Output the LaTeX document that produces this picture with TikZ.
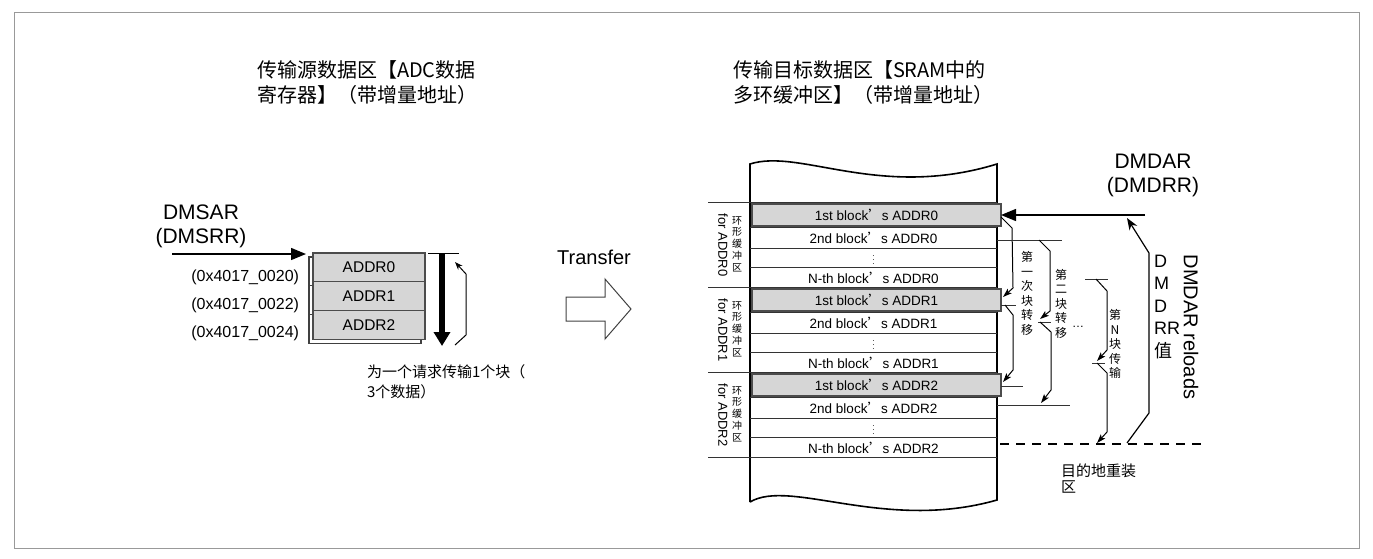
\documentclass[tikz,border=0pt]{standalone}
\usepackage{fontspec}
\setmainfont{Liberation Sans}
\newfontfamily\cjk{Noto Sans CJK SC}
\usetikzlibrary{arrows.meta}
\newcommand{\fsz}[2]{\fontsize{#1}{#2}\selectfont}

\begin{document}
\begin{tikzpicture}[x=1pt,y=-1pt,
  every node/.style={inner sep=0pt,outer sep=0pt},
  greybox/.style={draw=black!70,line width=1.2pt,fill=black!16},
  regbox/.style={greybox,minimum width=112pt,minimum height=28.7pt,font=\fsz{15.5}{16}},
  bigarrow/.style={line width=1.4pt,-{Triangle[length=15pt,width=12pt]}},
  brk/.style={line width=1pt,-{Stealth[length=9pt,width=6pt,inset=2pt]}},
  memline/.style={line width=1pt,black!80},
  rowtext/.style={font=\fsz{13.5}{14}},
  vlabel/.style={align=center,font=\cjk\fsz{12}{14.5}}]
\useasboundingbox (0,0) rectangle (1373,558);
\draw[black!40,line width=1pt] (14,12) rectangle (1359,548);

% titles
\node[anchor=west,align=left,font=\cjk\fsz{20}{25}] (srctitle) at (257,82) {传输源数据区【ADC数据\\寄存器】（带增量地址）};
\node[anchor=west,align=left,font=\cjk\fsz{20}{25}] (dsttitle) at (733,82) {传输目标数据区【SRAM中的\\多环缓冲区】（带增量地址）};

% source registers
\node[align=center,font=\fsz{21}{24}] (dmsar) at (201,226.5) {DMSAR\\(DMSRR)};
\foreach \i in {0,1,2}
  \draw[line width=1.2pt,black!75,fill=white] (309,257+28.7*\i) rectangle ++(112,28.7);
\foreach \i/\a in {0/0020,1/0022,2/0024}{
  \node[regbox,anchor=north west] (reg\i) at (313,253+28.7*\i) {ADDR\i};
  \node[anchor=base east,font=\fsz{16}{16}] (addr\i) at (299,281+28*\i) {(0x4017\_\a)};
}
\coordinate (srcin) at (172,254);
\draw[bigarrow] (srcin) -- ([xshift=-7pt,yshift=-1pt]reg0.north west);
\draw[line width=1pt] (428,253) -- (459,253);
\draw[line width=6pt,-{Triangle[length=14pt,width=16pt]}] (442,254) -- (442,346);
\draw[line width=1pt,-{Stealth[length=8pt,width=6pt]}] (455,345) -- (466,335) -- (466,274) -- (455,262);
\node[anchor=west,align=left,font=\cjk\fsz{15}{20}] (blknote) at (367,382) {为一个请求传输1个块（\\3个数据）};

% transfer
\node[anchor=base,font=\fsz{20}{20}] (xfer) at (594,264) {Transfer};
\draw[line width=1pt,black!75] (566,297) -- (605,297) -- (605,279) -- (631,309) -- (605,339) -- (605,321) -- (566,321) -- cycle;

% destination memory
\draw[line width=1.6pt] (750,502) -- (750,164) .. controls (800,148) and (880,200) .. (997,164)
  -- (997,500) .. controls (885,532) and (790,478) .. (750,502);
\foreach \g in {0,1,2}{
  \pgfmathsetmacro{\T}{202+85*\g}
  \draw[memline] (708,\T) -- (997,\T);
  \foreach \d in {25,46,65}
    \draw[memline] (750,\T+\d) -- (997,\T+\d);
  \node[greybox,minimum width=249pt,minimum height=22pt,anchor=north west,rowtext] (first\g) at (752,\T+2) {1st block{\cjk ’}s ADDR\g};
  \node[rowtext] (second\g) at (873.5,\T+36) {2nd block{\cjk ’}s ADDR\g};
  \node[font=\fsz{8}{8}] (dots\g) at (873.5,\T+55.5) {$\vdots$};
  \node[rowtext] (nth\g) at (873.5,\T+75.5) {N-th block{\cjk ’}s ADDR\g};
  \node[rotate=-90,font=\fsz{13}{13}] (for\g) at (723,\T+43) {for ADDR\g};
  \node[align=center,font=\cjk\fsz{10}{11.75}] (ring\g) at (737,\T+42) {环\\形\\缓\\冲\\区};
}
\draw[memline] (708,457) -- (997,457);

% destination address reload
\node[align=center,font=\fsz{21}{24}] (dmdar) at (1153,175.5) {DMDAR\\(DMDRR)};
\coordinate (dstin) at (1145,215);
\draw[bigarrow] (dstin) -- (first0.east);
\draw[line width=1.2pt,-{Stealth[length=12pt,width=9pt]}] (1127,443) -- (1149,413) -- (1149,253) -- (1127,218);
\node[anchor=west,align=left,font=\fsz{18}{22.5}] (drrval) at (1154,307) {D\\M\\D\\RR\\{\cjk 值}};
\node[rotate=-90,font=\fsz{20}{20}] (reload) at (1191,327) {DMDAR reloads};
\draw[line width=1.2pt,dash pattern=on 9pt off 7pt] (1000,444) -- (1203,444);
\node[anchor=west,align=left,font=\cjk\fsz{15}{16}] (reloadarea) at (1061,479) {目的地重装\\区};

% first block transfer
\draw[brk] ([yshift=-2pt]first0.east) -- ++(11,11) -- (1013,288) -- ([xshift=2pt,yshift=3pt]first1.east);
\draw[memline] ([yshift=-5pt]first1.east) -- ++(15,0);
\draw[brk] ([xshift=4pt,yshift=-5pt]first1.east) -- (1013,315) -- (1013,370) -- ([xshift=2pt,yshift=3pt]first2.east);
\draw[memline] ([yshift=-1pt]first2.east) -- ++(22,0);
\node[vlabel] (lbl1) at (1027,293.5) {第\\一\\次\\块\\转\\移};

% second block transfer
\draw[memline] (997,240) -- (1062,240);
\draw[brk] (1039,240) -- (1050,251) -- (1050,311) -- (1040,319);
\draw[memline] (1038,322) -- (1051,322);
\draw[brk] (1040,322) -- (1051,332) -- (1051,390) -- (1041,403);
\draw[memline] (997,405) -- (1070,405);
\node[vlabel] (lbl2) at (1061,303.5) {第\\二\\块\\转\\移};
\node[font=\fsz{12}{12}] (more) at (1078,327) {…};

% N-th block transfer
\draw[memline] (1085,279) -- (1108,279);
\draw[brk] (1096,279) -- (1107,291) -- (1107,350) -- (1097,361);
\draw[memline] (1092,363) -- (1105,363);
\draw[brk] (1097,363) -- (1107,373) -- (1107,432) -- (1097,443);
\node[vlabel] (lbln) at (1115,344) {第\\N\\块\\传\\输};
\end{tikzpicture}
\end{document}
